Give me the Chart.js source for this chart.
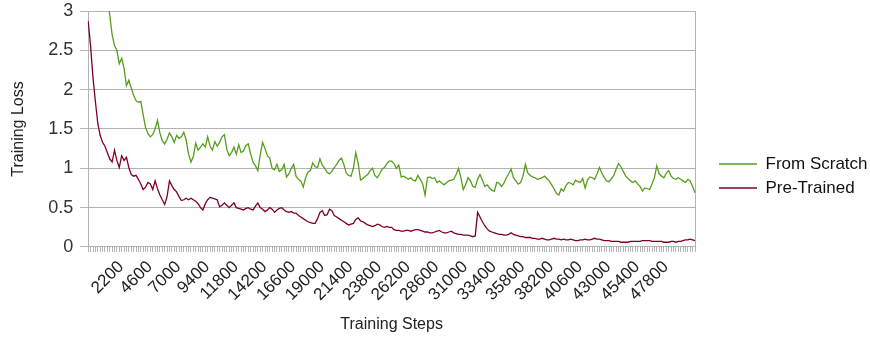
<!DOCTYPE html>
<html>
<head>
<meta charset="utf-8">
<script src="https://cdn.jsdelivr.net/npm/chart.js@4/dist/chart.umd.min.js"></script>
<style>
  body { margin: 0; background: #fff; }
  #lossChart { display: block; }
</style>
</head>
<body>
<canvas id="lossChart" width="870" height="338"></canvas>
<script>
// training steps (x categories)
var steps = [200, 400, 600, 800, 1000, 1200, 1400, 1600, 1800, 2000,
    2200, 2400, 2600, 2800, 3000, 3200, 3400, 3600, 3800, 4000,
    4200, 4400, 4600, 4800, 5000, 5200, 5400, 5600, 5800, 6000,
    6200, 6400, 6600, 6800, 7000, 7200, 7400, 7600, 7800, 8000,
    8200, 8400, 8600, 8800, 9000, 9200, 9400, 9600, 9800, 10000,
    10200, 10400, 10600, 10800, 11000, 11200, 11400, 11600, 11800, 12000,
    12200, 12400, 12600, 12800, 13000, 13200, 13400, 13600, 13800, 14000,
    14200, 14400, 14600, 14800, 15000, 15200, 15400, 15600, 15800, 16000,
    16200, 16400, 16600, 16800, 17000, 17200, 17400, 17600, 17800, 18000,
    18200, 18400, 18600, 18800, 19000, 19200, 19400, 19600, 19800, 20000,
    20200, 20400, 20600, 20800, 21000, 21200, 21400, 21600, 21800, 22000,
    22200, 22400, 22600, 22800, 23000, 23200, 23400, 23600, 23800, 24000,
    24200, 24400, 24600, 24800, 25000, 25200, 25400, 25600, 25800, 26000,
    26200, 26400, 26600, 26800, 27000, 27200, 27400, 27600, 27800, 28000,
    28200, 28400, 28600, 28800, 29000, 29200, 29400, 29600, 29800, 30000,
    30200, 30400, 30600, 30800, 31000, 31200, 31400, 31600, 31800, 32000,
    32200, 32400, 32600, 32800, 33000, 33200, 33400, 33600, 33800, 34000,
    34200, 34400, 34600, 34800, 35000, 35200, 35400, 35600, 35800, 36000,
    36200, 36400, 36600, 36800, 37000, 37200, 37400, 37600, 37800, 38000,
    38200, 38400, 38600, 38800, 39000, 39200, 39400, 39600, 39800, 40000,
    40200, 40400, 40600, 40800, 41000, 41200, 41400, 41600, 41800, 42000,
    42200, 42400, 42600, 42800, 43000, 43200, 43400, 43600, 43800, 44000,
    44200, 44400, 44600, 44800, 45000, 45200, 45400, 45600, 45800, 46000,
    46200, 46400, 46600, 46800, 47000, 47200, 47400, 47600, 47800, 48000,
    48200, 48400, 48600, 48800, 49000, 49200, 49400, 49600, 49800, 50000,
    50200, 50400, 50600, 50800, 51000];

// only these step labels are printed under the axis
var tickLabels = [2200, 4600, 7000, 9400, 11800, 14200, 16600, 19000, 21400, 23800,
    26200, 28600, 31000, 33400, 35800, 38200, 40600, 43000, 45400, 47800];

var fromScratch = [5.2, 4.95, 4.7, 4.45, 4.2, 3.95, 3.7, 3.45, 3.2, 2.95,
    2.70, 2.56, 2.50, 2.33, 2.40, 2.27, 2.05, 2.12, 2.02, 1.93,
    1.86, 1.84, 1.85, 1.68, 1.52, 1.44, 1.40, 1.43, 1.50, 1.61,
    1.45, 1.35, 1.31, 1.37, 1.45, 1.40, 1.33, 1.42, 1.38, 1.40,
    1.46, 1.36, 1.18, 1.08, 1.15, 1.32, 1.23, 1.27, 1.31, 1.27,
    1.40, 1.28, 1.23, 1.34, 1.28, 1.33, 1.40, 1.43, 1.24, 1.16,
    1.20, 1.27, 1.18, 1.30, 1.20, 1.22, 1.29, 1.31, 1.18, 1.08,
    1.03, 0.97, 1.17, 1.33, 1.25, 1.16, 1.13, 1.00, 0.98, 1.05,
    0.96, 0.98, 1.05, 0.89, 0.93, 1.00, 1.05, 0.90, 0.86, 0.84,
    0.76, 0.88, 0.95, 0.97, 1.07, 1.02, 1.01, 1.12, 1.04, 1.00,
    0.95, 0.93, 0.96, 1.01, 1.05, 1.10, 1.13, 1.05, 0.94, 0.91,
    0.90, 1.00, 1.20, 1.06, 0.85, 0.87, 0.90, 0.92, 0.97, 1.00,
    0.91, 0.88, 0.93, 0.99, 1.01, 1.06, 1.09, 1.09, 1.06, 1.00,
    1.04, 0.89, 0.90, 0.88, 0.86, 0.88, 0.85, 0.84, 0.91, 0.86,
    0.80, 0.66, 0.88, 0.89, 0.87, 0.88, 0.82, 0.84, 0.81, 0.79,
    0.82, 0.84, 0.85, 0.86, 0.92, 1.00, 0.88, 0.73, 0.79, 0.88,
    0.84, 0.77, 0.76, 0.86, 0.92, 0.85, 0.77, 0.79, 0.75, 0.72,
    0.71, 0.82, 0.81, 0.77, 0.81, 0.88, 0.93, 0.99, 0.88, 0.84,
    0.80, 0.82, 0.90, 1.05, 0.94, 0.91, 0.89, 0.88, 0.86, 0.87,
    0.88, 0.90, 0.87, 0.84, 0.79, 0.74, 0.68, 0.66, 0.74, 0.71,
    0.78, 0.82, 0.81, 0.79, 0.85, 0.83, 0.82, 0.87, 0.75, 0.85,
    0.89, 0.88, 0.86, 0.93, 1.01, 0.94, 0.88, 0.84, 0.83, 0.87,
    0.91, 0.99, 1.06, 1.02, 0.96, 0.90, 0.87, 0.84, 0.82, 0.84,
    0.80, 0.77, 0.71, 0.75, 0.74, 0.73, 0.80, 0.88, 1.03, 0.93,
    0.90, 0.88, 0.94, 0.97, 0.90, 0.87, 0.86, 0.88, 0.86, 0.84,
    0.82, 0.86, 0.84, 0.77, 0.69];

var preTrained = [2.87, 2.55, 2.15, 1.85, 1.57, 1.42, 1.33, 1.28, 1.20, 1.12,
    1.08, 1.23, 1.10, 1.01, 1.16, 1.10, 1.14, 1.01, 0.92, 0.90,
    0.91, 0.86, 0.80, 0.73, 0.76, 0.82, 0.80, 0.73, 0.84, 0.74,
    0.66, 0.60, 0.54, 0.64, 0.84, 0.78, 0.73, 0.70, 0.64, 0.59,
    0.60, 0.62, 0.60, 0.62, 0.60, 0.58, 0.55, 0.50, 0.47, 0.55,
    0.60, 0.63, 0.62, 0.61, 0.60, 0.51, 0.53, 0.56, 0.53, 0.50,
    0.53, 0.56, 0.50, 0.49, 0.48, 0.47, 0.49, 0.50, 0.48, 0.47,
    0.52, 0.56, 0.50, 0.48, 0.45, 0.47, 0.50, 0.48, 0.44, 0.47,
    0.49, 0.50, 0.47, 0.45, 0.44, 0.45, 0.43, 0.43, 0.40, 0.38,
    0.36, 0.34, 0.32, 0.31, 0.30, 0.30, 0.36, 0.44, 0.46, 0.40,
    0.41, 0.48, 0.46, 0.40, 0.38, 0.36, 0.34, 0.32, 0.30, 0.28,
    0.29, 0.30, 0.35, 0.37, 0.33, 0.32, 0.30, 0.28, 0.27, 0.26,
    0.27, 0.29, 0.28, 0.26, 0.25, 0.26, 0.25, 0.25, 0.22, 0.21,
    0.21, 0.20, 0.20, 0.21, 0.21, 0.20, 0.21, 0.22, 0.22, 0.21,
    0.20, 0.19, 0.19, 0.18, 0.18, 0.19, 0.20, 0.21, 0.19, 0.18,
    0.18, 0.19, 0.20, 0.18, 0.17, 0.16, 0.16, 0.15, 0.15, 0.15,
    0.14, 0.13, 0.14, 0.44, 0.38, 0.32, 0.27, 0.23, 0.20, 0.19,
    0.18, 0.17, 0.16, 0.16, 0.15, 0.15, 0.16, 0.18, 0.16, 0.15,
    0.14, 0.13, 0.13, 0.12, 0.12, 0.12, 0.11, 0.11, 0.10, 0.10,
    0.11, 0.10, 0.09, 0.09, 0.10, 0.11, 0.10, 0.10, 0.09, 0.10,
    0.09, 0.09, 0.10, 0.09, 0.08, 0.08, 0.09, 0.09, 0.10, 0.09,
    0.09, 0.10, 0.11, 0.10, 0.10, 0.09, 0.08, 0.08, 0.08, 0.07,
    0.07, 0.07, 0.07, 0.06, 0.06, 0.06, 0.06, 0.07, 0.07, 0.07,
    0.07, 0.07, 0.08, 0.08, 0.08, 0.08, 0.07, 0.07, 0.07, 0.07,
    0.07, 0.06, 0.06, 0.06, 0.07, 0.07, 0.06, 0.07, 0.07, 0.08,
    0.09, 0.09, 0.10, 0.09, 0.08];

var gridColor = '#b3b3b3';
var font = 'Liberation Sans';

// chart.js measures the legend a bit narrow, widen the box so the text isn't clipped
var legendWidth = {
    id: 'legendWidth',
    afterInit: function (chart) {
        var fit = chart.legend.fit;
        chart.legend.fit = function () {
            fit.call(this);
            this.width = 158;
        };
    }
};

var ctx = document.getElementById('lossChart');
var lossChart = new Chart(ctx, {
    type: 'line',
    data: {
        labels: steps,
        datasets: [{
            label: 'From Scratch',
            data: fromScratch,
            borderColor: '#579d1c',
            backgroundColor: '#579d1c',
            borderWidth: 1.3,
            pointRadius: 0,
            pointStyle: 'line',
            tension: 0
        }, {
            label: 'Pre-Trained',
            data: preTrained,
            borderColor: '#7e0021',
            backgroundColor: '#7e0021',
            borderWidth: 1.3,
            pointRadius: 0,
            pointStyle: 'line',
            tension: 0
        }]
    },
    plugins: [legendWidth],
    options: {
        responsive: false,
        animation: false,
        devicePixelRatio: 1,
        layout: {
            padding: { top: 11, left: 4, right: 0, bottom: 4 }
        },
        plugins: {
            legend: {
                position: 'right',
                title: { display: true, text: '', padding: 0.5, font: { size: 5 } },
                labels: {
                    usePointStyle: true,
                    pointStyleWidth: 38,
                    padding: 7,
                    color: '#111',
                    font: { family: font, size: 17 }
                }
            },
            tooltip: { enabled: false }
        },
        scales: {
            x: {
                type: 'category',
                grid: {
                    drawOnChartArea: false,
                    color: gridColor,
                    tickLength: 5
                },
                border: { color: gridColor },
                ticks: {
                    autoSkip: false,
                    maxRotation: 45,
                    minRotation: 45,
                    padding: 5,
                    labelOffset: 9,
                    color: '#222',
                    font: { family: font, size: 17 },
                    callback: function (val, idx) {
                        return tickLabels.indexOf(steps[idx]) >= 0 ? String(steps[idx]) : '';
                    }
                },
                title: {
                    display: true,
                    text: 'Training Steps',
                    color: '#222',
                    font: { family: font, size: 16 },
                    padding: { top: 5, bottom: 0 }
                }
            },
            y: {
                min: 0,
                max: 3,
                grid: {
                    color: gridColor,
                    tickLength: 8
                },
                border: { color: gridColor },
                ticks: {
                    stepSize: 0.5,
                    padding: 7,
                    color: '#333',
                    font: { family: font, size: 18 },
                    callback: function (v) { return String(v); }
                },
                title: {
                    display: true,
                    text: 'Training Loss',
                    color: '#222',
                    font: { family: font, size: 16 },
                    padding: { top: 5, bottom: 13 }
                },
                afterFit: function (scale) { scale.paddingTop = 0; }
            },
            y2: {
                position: 'right',
                display: true,
                grid: { drawOnChartArea: false, drawTicks: false },
                border: { color: gridColor },
                ticks: { display: false },
                afterFit: function (scale) { scale.width = 17; }
            }
        }
    }
});
</script>
</body>
</html>
